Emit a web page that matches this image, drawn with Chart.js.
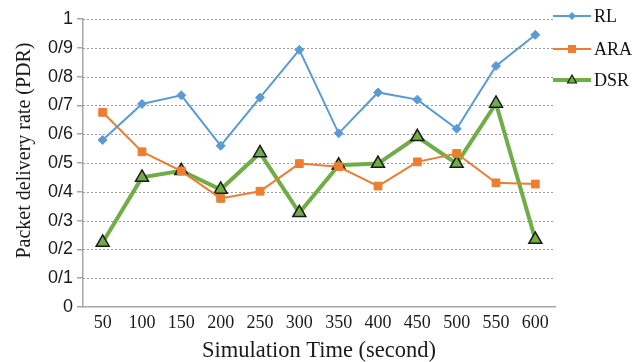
<!DOCTYPE html>
<html>
<head>
<meta charset="utf-8">
<script src="https://cdn.jsdelivr.net/npm/chart.js@4/dist/chart.umd.min.js"></script>
<style>
html,body{margin:0;padding:0;background:#fff;}
#wrap{width:632px;height:362px;position:relative;}
</style>
</head>
<body>
<div id="wrap"><canvas id="c" width="632" height="362"></canvas></div>
<script>
const categories = ['50','100','150','200','250','300','350','400','450','500','550','600'];
const rlValues  = [0.58, 0.705, 0.735, 0.56, 0.727, 0.893, 0.603, 0.745, 0.72, 0.619, 0.837, 0.945];
const araValues = [0.676, 0.539, 0.472, 0.377, 0.402, 0.498, 0.487, 0.42, 0.504, 0.533, 0.431, 0.427];
const dsrValues = [0.224, 0.45, 0.473, 0.408, 0.535, 0.327, 0.492, 0.498, 0.591, 0.498, 0.707, 0.234];
const yTickLabels = ['0','0/1','0/2','0/3','0/4','0/5','0/6','0/7','0/8','0/9','1'];
const seriesNames = ['RL','ARA','DSR'];
const yTitle = 'Packet delivery rate (PDR)';
const xTitle = 'Simulation Time (second)';

const SERIF = '"Liberation Serif", "Times New Roman", serif';

const dashedGrid = {
  id: 'dashedGrid',
  beforeDatasetsDraw(chart) {
    const ctx = chart.ctx;
    const y = chart.scales.y;
    const a = chart.chartArea;
    ctx.save();
    ctx.strokeStyle = '#9c9c9c';
    ctx.lineWidth = 1;
    ctx.setLineDash([2, 2]);
    y.ticks.forEach(t => {
      if (t.value === 0) return;
      const py = Math.round(y.getPixelForValue(t.value)) + 0.5;
      ctx.beginPath();
      ctx.moveTo(a.left, py);
      ctx.lineTo(a.right, py);
      ctx.stroke();
    });
    ctx.restore();
  }
};

const yTitlePlugin = {
  id: 'yTitle',
  afterDraw(chart) {
    const ctx = chart.ctx;
    ctx.save();
    ctx.translate(30, 150.5);
    ctx.rotate(-Math.PI / 2);
    ctx.fillStyle = '#1a1a1a';
    ctx.font = '20px ' + SERIF;
    ctx.textAlign = 'center';
    ctx.textBaseline = 'alphabetic';
    ctx.fillText(yTitle, 0, 0);
    ctx.restore();
  }
};

const legendPlugin = {
  id: 'sideLegend',
  afterDraw(chart) {
    const ctx = chart.ctx;
    const ys = [16, 49, 80];
    const mx = 572;
    chart.data.datasets.forEach((ds, i) => {
      const y = ys[i];
      ctx.save();
      ctx.strokeStyle = ds.borderColor;
      ctx.lineWidth = ds.borderWidth;
      ctx.beginPath();
      ctx.moveTo(553, y);
      ctx.lineTo(591, y);
      ctx.stroke();
      ctx.fillStyle = ds.pointBackgroundColor;
      ctx.strokeStyle = ds.pointBorderColor;
      ctx.lineWidth = 1.2;
      ctx.beginPath();
      if (ds.pointStyle === 'triangle') {
        ctx.moveTo(mx, y - 5);
        ctx.lineTo(mx + 4.5, y + 3);
        ctx.lineTo(mx - 4.5, y + 3);
        ctx.closePath();
        ctx.fill(); ctx.stroke();
      } else if (ds.pointStyle === 'rect') {
        ctx.rect(mx - 4, y - 4, 8, 8);
        ctx.fill();
      } else {
        ctx.moveTo(mx, y - 4); ctx.lineTo(mx + 4, y); ctx.lineTo(mx, y + 4); ctx.lineTo(mx - 4, y); ctx.closePath();
        ctx.fill();
      }
      ctx.fillStyle = '#111';
      ctx.font = '18px ' + SERIF;
      ctx.textBaseline = 'middle';
      ctx.textAlign = 'left';
      ctx.fillText(seriesNames[i], 594, y + 1);
      ctx.restore();
    });
  }
};

new Chart(document.getElementById('c'), {
  type: 'line',
  data: {
    labels: categories,
    datasets: [
      { label: seriesNames[0], data: rlValues, borderColor: '#5B9BD5', backgroundColor: '#5B9BD5',
        borderWidth: 2, pointStyle: 'rectRot', pointRadius: 4.5, pointBackgroundColor: '#5B9BD5',
        pointBorderColor: '#5B9BD5', pointBorderWidth: 1, tension: 0 },
      { label: seriesNames[1], data: araValues, borderColor: '#ED7D31', backgroundColor: '#ED7D31',
        borderWidth: 2, pointStyle: 'rect', pointRadius: 5.5, pointBackgroundColor: '#ED7D31',
        pointBorderColor: '#ED7D31', pointBorderWidth: 1, tension: 0 },
      { label: seriesNames[2], data: dsrValues, borderColor: '#70AD47', backgroundColor: '#70AD47',
        borderWidth: 4, pointStyle: 'triangle', pointRadius: 7.5, pointBackgroundColor: '#70AD47',
        pointBorderColor: '#1a1a1a', pointBorderWidth: 1.5, tension: 0 }
    ]
  },
  options: {
    responsive: false,
    animation: false,
    layout: { padding: { left: 0, right: 77, top: 19, bottom: 0 } },
    plugins: { legend: { display: false }, tooltip: { enabled: false } },
    scales: {
      x: {
        offset: true,
        grid: { display: false, drawTicks: false },
        border: { display: true, color: '#a6a6a6', width: 1.5 },
        ticks: { color: '#1a1a1a', padding: 5, font: { family: SERIF, size: 18 }, maxRotation: 0, autoSkip: false },
        title: { display: true, text: xTitle, color: '#1a1a1a', padding: { top: 0, bottom: -3 },
          font: { family: SERIF, size: 22.5 } },
        afterFit(scale) { scale.height = 55; }
      },
      y: {
        min: 0, max: 1,
        ticks: { stepSize: 0.1, color: '#1a1a1a', padding: 4,
          font: { family: '"Liberation Sans", Arial, sans-serif', size: 18 },
          callback: (v, i) => yTickLabels[i] },
        grid: { drawOnChartArea: false, drawTicks: true, tickLength: 6, tickColor: '#a6a6a6', lineWidth: 1.5 },
        border: { display: true, color: '#a6a6a6', width: 1.5 },
        title: { display: false },
        afterFit(scale) { scale.width = 83; }
      }
    }
  },
  plugins: [dashedGrid, legendPlugin, yTitlePlugin]
});
</script>
</body>
</html>
